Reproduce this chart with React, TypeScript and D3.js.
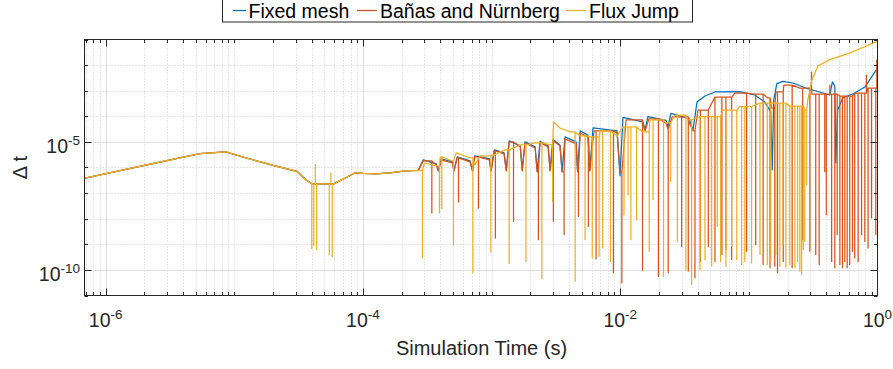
import React from 'react';
import * as d3 from 'd3';

type Pt = [number, number];

// Simulation time (s) vs. time step Δt. All three runs share the same start-up phase.
const sharedStart: Pt[] = [
  [6.3e-7, 3.5e-7], [2.0e-6, 1.2e-6], [5.4e-6, 3.5e-6], [8.55e-6, 4.1e-6], [1.26e-5, 2.3e-6],
  [2.0e-5, 1.2e-6], [3.07e-5, 7.0e-7], [3.6e-5, 3.3e-7], [4.0e-5, 2.3e-7], [5.9e-5, 2.3e-7],
  [7.3e-5, 3.9e-7], [8.7e-5, 6.2e-7], [1.0e-4, 5.9e-7], [1.25e-4, 5.6e-7], [1.63e-4, 6.2e-7],
  [2.13e-4, 7.4e-7], [2.69e-4, 7.7e-7],
];

const fixedMeshTail: Pt[] = [
  [2.94e-4, 2.0e-6], [3.71e-4, 1.39e-6], [3.85e-4, 7.4e-7], [4.06e-4, 2.2e-6], [4.95e-4, 1.66e-6],
  [5.1e-4, 7.4e-7], [5.4e-4, 2.6e-6], [6.8e-4, 1.82e-6], [7.1e-4, 7.4e-7], [7.4e-4, 2.85e-6],
  [9.6e-4, 2.2e-6], [9.9e-4, 7.4e-7], [1.05e-3, 4.9e-6], [1.25e-3, 3.7e-6], [1.3e-3, 8.1e-7],
  [1.37e-3, 1.09e-5], [1.67e-3, 7.0e-6], [1.73e-3, 8.1e-7], [1.82e-3, 1.0e-5], [2.18e-3, 6.4e-6],
  [2.26e-3, 7.1e-7], [2.38e-3, 1.05e-5], [2.75e-3, 7.0e-6], [2.85e-3, 8.1e-7], [3.0e-3, 1.25e-5],
  [3.4e-3, 7.6e-6], [3.53e-3, 7.1e-7], [3.72e-3, 1.57e-5], [4.54e-3, 1.0e-5], [4.66e-3, 7.1e-7],
  [4.88e-3, 2.7e-5], [5.6e-3, 1.87e-5], [5.8e-3, 8.1e-7], [6.15e-3, 3.5e-5], [9.45e-3, 2.7e-5],
  [9.96e-3, 4.8e-7], [1.05e-2, 9.0e-5], [1.5e-2, 6.0e-5], [1.56e-2, 2.93e-5], [1.64e-2, 9.8e-5],
  [2.27e-2, 6.9e-5], [2.35e-2, 3.84e-5], [2.48e-2, 1.29e-4], [3.42e-2, 8.2e-5], [3.68e-2, 2.93e-5],
  [3.95e-2, 3.6e-4], [4.56e-2, 6.2e-4], [5.45e-2, 8.9e-4], [8.5e-2, 9.2e-4], [1.11e-1, 6.8e-4],
  [1.33e-1, 3.6e-4], [1.48e-1, 1.47e-4], [1.52e-1, 8.1e-7], [1.56e-1, 4.3e-4], [1.65e-1, 1.9e-3],
  [1.84e-1, 2.3e-3], [2.2e-1, 2.0e-3], [2.77e-1, 1.27e-3], [3.56e-1, 8.9e-4], [4.26e-1, 6.8e-4],
  [4.46e-1, 2.2e-3], [4.66e-1, 1.5e-3], [4.74e-1, 1.52e-6], [4.9e-1, 1.76e-4], [5.37e-1, 5.2e-4],
  [6.65e-1, 8.1e-4], [7.97e-1, 1.39e-3], [1.0, 7.6e-3],
];

const banasTail: Pt[] = [
  [2.94e-4, 1.82e-6], [3.71e-4, 1.27e-6], [3.85e-4, 7.4e-7], [4.06e-4, 2.0e-6], [4.95e-4, 1.52e-6],
  [5.1e-4, 7.4e-7], [5.4e-4, 2.38e-6], [6.8e-4, 1.66e-6], [7.1e-4, 7.4e-7], [7.4e-4, 2.6e-6],
  [9.6e-4, 2.0e-6], [9.9e-4, 7.4e-7], [1.05e-3, 4.45e-6], [1.25e-3, 3.4e-6], [1.3e-3, 7.4e-7],
  [1.37e-3, 1.0e-5], [1.67e-3, 6.4e-6], [1.73e-3, 7.4e-7], [1.82e-3, 9.1e-6], [2.18e-3, 5.8e-6],
  [2.26e-3, 6.8e-7], [2.38e-3, 9.6e-6], [2.75e-3, 6.4e-6], [2.85e-3, 7.4e-7], [3.0e-3, 1.09e-5],
  [3.4e-3, 7.0e-6], [3.53e-3, 6.8e-7], [3.72e-3, 1.31e-5], [4.54e-3, 8.4e-6], [4.66e-3, 6.8e-7],
  [4.88e-3, 2.24e-5], [5.6e-3, 1.57e-5], [5.8e-3, 7.4e-7], [6.25e-3, 2.7e-5], [9.45e-3, 2.24e-5],
  [9.96e-3, 6.8e-7], [1.11e-2, 7.2e-5], [1.5e-2, 5.0e-5], [1.56e-2, 2.7e-5], [1.67e-2, 7.9e-5],
  [2.27e-2, 5.5e-5], [2.35e-2, 3.2e-5], [2.53e-2, 9.4e-5], [3.42e-2, 6.0e-5], [3.68e-2, 2.7e-5],
  [4.02e-2, 1.76e-4], [5.45e-2, 5.65e-4], [7.8e-2, 8.1e-4], [1.11e-1, 7.4e-4], [1.4e-1, 5.2e-4],
  [1.51e-1, 2.1e-4], [1.62e-1, 8.9e-4], [1.87e-1, 1.66e-3], [2.49e-1, 1.27e-3], [3.09e-1, 7.4e-4],
  [5.1e-1, 6.2e-4], [6.65e-1, 8.1e-4], [8.4e-1, 1.27e-3], [1.0, 2.6e-3],
];

const fluxJumpTail: Pt[] = [
  [3.0e-4, 1.5e-6], [3.71e-4, 1.16e-6], [3.99e-4, 2.6e-6], [4.95e-4, 1.8e-6], [5.3e-4, 3.7e-6],
  [6.8e-4, 2.4e-6], [7.4e-4, 1.27e-6], [8.15e-4, 2.85e-6], [1.05e-3, 3.1e-6], [1.27e-3, 4.9e-6],
  [1.67e-3, 7.6e-6], [2.18e-3, 9.2e-6], [2.9e-3, 7.6e-6], [3.03e-3, 6.0e-5], [3.4e-3, 3.5e-5],
  [4.08e-3, 2.45e-5], [4.88e-3, 1.71e-5], [5.8e-3, 1.57e-5], [6.97e-3, 2.7e-5], [9.45e-3, 1.71e-5],
  [1.05e-2, 3.84e-5], [1.5e-2, 2.45e-5], [1.7e-2, 7.2e-5], [2.27e-2, 5.5e-5], [2.66e-2, 1.12e-4],
  [3.36e-2, 7.2e-5], [4.17e-2, 9.8e-5], [6.3e-2, 1.76e-4], [8.5e-2, 2.4e-4], [1.22e-1, 3.3e-4],
  [1.59e-1, 3.3e-4], [2.08e-1, 2.5e-4], [2.72e-1, 1.76e-4], [2.87e-1, 4.3e-4], [3.09e-1, 2.6e-3],
  [3.43e-1, 9.1e-3], [4.26e-1, 1.64e-2], [6.08e-1, 2.93e-2], [1.0, 8.6e-2],
];

// Single-step collapses of Δt: [time, step size at the bottom of the drop]
const banasDrops: Pt[] = [
  [3.43e-4, 1.67e-8], [5.53e-4, 4.5e-8], [7.9e-4, 2.6e-8], [1.07e-3, 1.77e-9], [1.48e-3, 7.9e-9],
  [2.31e-3, 1.52e-9], [3.02e-3, 7.9e-9], [3.66e-3, 2.4e-9], [4.73e-3, 1.23e-8], [5.65e-3, 5.0e-9],
  [6.49e-3, 2.7e-10], [8.85e-3, 7.7e-11], [1.03e-2, 3.1e-11], [1.49e-2, 9.6e-11], [1.98e-2, 5.6e-11],
  [2.36e-2, 7.7e-11], [3.0e-2, 8.3e-10], [3.38e-2, 8.9e-11], [3.81e-2, 4.9e-11], [4.2e-2, 2.1e-10],
  [4.84e-2, 8.3e-10], [5.45e-2, 2.1e-10], [6.17e-2, 3.96e-10], [6.63e-2, 6.2e-10], [7.35e-2, 2.5e-10],
  [9.6e-2, 5.3e-10], [1.13e-1, 9.7e-10], [1.29e-1, 1.62e-10], [1.46e-1, 1.2e-10], [1.59e-1, 1.39e-10],
  [1.67e-1, 7.7e-11], [1.85e-1, 2.15e-10], [2.17e-1, 1.2e-10], [2.62e-1, 1.52e-9], [2.98e-1, 5.3e-10],
  [3.07e-1, 5.3e-3], [3.31e-1, 4.0e-10], [3.52e-1, 1.62e-10], [3.89e-1, 6.9e-7], [4.0e-1, 1.43e-8],
  [4.26e-1, 1.66e-3], [4.4e-1, 2.15e-10], [4.66e-1, 1.2e-10], [4.86e-1, 2.4e-9], [5.1e-1, 1.62e-10],
  [5.34e-1, 1.2e-10], [5.57e-1, 2.15e-10], [5.81e-1, 1.2e-10], [6.08e-1, 1.62e-10], [6.39e-1, 5.3e-10],
  [6.65e-1, 2.95e-10], [7.07e-1, 2.15e-10], [7.52e-1, 2.4e-9], [7.97e-1, 1.31e-9], [8.2e-1, 4.1e-3],
  [8.45e-1, 7.2e-10], [8.98e-1, 1.07e-8], [9.7e-1, 2.4e-9], [9.87e-1, 1.57e-2],
];

const fluxJumpDrops: Pt[] = [
  [4.0e-5, 6.8e-10], [4.15e-5, 8.9e-10], [4.26e-5, 1.27e-6], [4.37e-5, 6.2e-10], [5.47e-5, 4.0e-10],
  [5.63e-5, 6.2e-7], [5.77e-5, 3.3e-10],
  [2.9e-4, 2.95e-10], [3.93e-4, 1.67e-8], [4.1e-4, 2.45e-8], [5.05e-4, 9.1e-10], [7.15e-4, 7.7e-11],
  [9.87e-4, 4.9e-10], [1.37e-3, 1.77e-10], [1.85e-3, 2.15e-10], [2.46e-3, 4.5e-11], [2.98e-3, 4.7e-8],
  [4.46e-3, 3.6e-11], [5.33e-3, 1.52e-9], [6.06e-3, 2.95e-10], [6.85e-3, 3.4e-10], [7.3e-3, 7.2e-10],
  [8.4e-3, 2.15e-10], [1.07e-2, 1.43e-8], [1.15e-2, 8.6e-8], [1.21e-2, 1.52e-9], [1.34e-2, 9.1e-9],
  [1.68e-2, 5.3e-10], [1.8e-2, 5.5e-8], [2.17e-2, 5.6e-11], [2.47e-2, 2.83e-7], [2.78e-2, 1.31e-9],
  [3.24e-2, 1.03e-10], [3.59e-2, 2.68e-11], [4.17e-2, 1.03e-10], [4.56e-2, 2.5e-10], [5.14e-2, 1.39e-10],
  [5.68e-2, 5.0e-9], [6.03e-2, 2.15e-10], [6.63e-2, 1.39e-10], [7.35e-2, 8.3e-10], [8.05e-2, 2.5e-10],
  [8.78e-2, 1.62e-10], [9.3e-2, 2.15e-10], [1.05e-1, 1.88e-10], [1.22e-1, 3.96e-10], [1.39e-1, 1.62e-10],
  [1.48e-1, 2.15e-10], [1.62e-1, 3.96e-10], [1.74e-1, 1.39e-10], [1.84e-1, 9.7e-10], [1.94e-1, 1.2e-10],
  [2.08e-1, 1.62e-10], [2.28e-1, 1.2e-10], [2.39e-1, 2.15e-10], [2.49e-1, 8.9e-11], [2.57e-1, 6.6e-11],
  [2.65e-1, 6.2e-10], [2.72e-1, 1.31e-9], [2.82e-1, 2.1e-7],
];

const seriesNames = ['Fixed mesh', 'Bañas and Nürnberg', 'Flux Jump'];
const seriesColors = ['#0072BD', '#D95319', '#EDB120'];

const xLabeledTicks = [1e-6, 1e-4, 1e-2, 1];
const xLabelExponents = ['-6', '-4', '-2', '0'];
const yLabeledTicks = [1e-10, 1e-5];
const yLabelExponents = ['-10', '-5'];

const W = 893;
const H = 369;
const FONT = "'Liberation Sans', Arial, Helvetica, sans-serif";
const INK = '#262626';

const box = { left: 84.5, right: 877.5, top: 39.5, bottom: 295.5 };

const x = d3.scaleLog().domain([6.84e-7, 1]).range([box.left, box.right]);
const y = d3.scaleLog().domain([1e-11, 1e-1]).range([box.bottom, box.top]);

// Insert each drop as a vertical excursion that leaves from and returns to the last recorded step.
function withDrops(base: Pt[], drops: Pt[]): Pt[] {
  const sorted = [...drops].sort((a, b) => a[0] - b[0]);
  const out: Pt[] = [];
  let j = 0;
  for (let i = 0; i < base.length; i++) {
    out.push(base[i]);
    const next = i + 1 < base.length ? base[i + 1][0] : Infinity;
    while (j < sorted.length && sorted[j][0] < next) {
      if (sorted[j][0] >= base[i][0]) {
        const hold = base[i][1];
        out.push([sorted[j][0], hold], [sorted[j][0], sorted[j][1]], [sorted[j][0], hold]);
      }
      j++;
    }
  }
  return out;
}

const seriesData: Pt[][] = [
  [...sharedStart, ...fixedMeshTail],
  withDrops([...sharedStart, ...banasTail], banasDrops),
  withDrops([...sharedStart, ...fluxJumpTail], fluxJumpDrops),
];

const line = d3
  .line<Pt>()
  .x((d) => x(d[0]))
  .y((d) => y(d[1]));

const isNear = (a: number, b: number) => Math.abs(Math.log10(a) - Math.log10(b)) < 1e-6;

export default function App() {
  const xTicks = x.ticks(10);
  const yTicks = d3.range(-11, 0).map((e) => Math.pow(10, e));
  const majorLen = 7;
  const minorLen = 3.5;

  const legendLines = [
    { x1: 233, x2: 246, tx: 248.5 },
    { x1: 357, x2: 377, tx: 380 },
    { x1: 566, x2: 586, tx: 589 },
  ];

  return (
    <svg
      width={W}
      height={H}
      viewBox={`0 0 ${W} ${H}`}
      style={{ position: 'absolute', left: 0, top: 0, background: '#fff' }}
      fontFamily={FONT}
    >
      <defs>
        <clipPath id="plot-area">
          <rect x={box.left} y={box.top} width={box.right - box.left} height={box.bottom - box.top} />
        </clipPath>
      </defs>
      <rect x={0} y={0} width={W} height={H} fill="#fff" />

      {/* grid */}
      <g>
        {xTicks.map((t, i) => {
          const major = xLabeledTicks.some((v) => isNear(v, t));
          const px = Math.round(x(t)) + 0.5;
          if (px <= box.left + 1 || px >= box.right - 1) return null;
          return (
            <line
              key={`gx${i}`}
              x1={px}
              x2={px}
              y1={box.top}
              y2={box.bottom}
              stroke={major ? '#dfdfdf' : '#cfcfcf'}
              strokeWidth={1}
              strokeDasharray={major ? undefined : '1 2'}
            />
          );
        })}
        {yTicks.map((t, i) => {
          const major = yLabeledTicks.some((v) => isNear(v, t));
          const py = Math.round(y(t)) + 0.5;
          if (py <= box.top + 1 || py >= box.bottom - 1) return null;
          return (
            <line
              key={`gy${i}`}
              x1={box.left}
              x2={box.right}
              y1={py}
              y2={py}
              stroke={major ? '#dfdfdf' : '#cfcfcf'}
              strokeWidth={1}
              strokeDasharray={major ? undefined : '1 2'}
            />
          );
        })}
      </g>

      {/* data */}
      <g clipPath="url(#plot-area)">
        {seriesData.map((pts, i) => (
          <path
            key={seriesNames[i]}
            d={line(pts) ?? ''}
            fill="none"
            stroke={seriesColors[i]}
            strokeWidth={1.25}
            strokeLinejoin="round"
          />
        ))}
      </g>

      {/* axes box and ticks */}
      <rect
        x={box.left}
        y={box.top}
        width={box.right - box.left}
        height={box.bottom - box.top}
        fill="none"
        stroke={INK}
        strokeWidth={1}
      />
      <g stroke={INK} strokeWidth={1}>
        {xTicks.map((t, i) => {
          const major = xLabeledTicks.some((v) => isNear(v, t));
          const len = major ? majorLen : minorLen;
          const px = Math.round(x(t)) + 0.5;
          if (px < box.left || px > box.right) return null;
          return (
            <g key={`tx${i}`}>
              <line x1={px} x2={px} y1={box.bottom} y2={box.bottom - len} />
              <line x1={px} x2={px} y1={box.top} y2={box.top + len} />
            </g>
          );
        })}
        {yTicks.map((t, i) => {
          const major = yLabeledTicks.some((v) => isNear(v, t));
          const len = major ? majorLen : minorLen;
          const py = Math.round(y(t)) + 0.5;
          return (
            <g key={`ty${i}`}>
              <line x1={box.left} x2={box.left + len} y1={py} y2={py} />
              <line x1={box.right} x2={box.right - len} y1={py} y2={py} />
            </g>
          );
        })}
      </g>

      {/* tick labels */}
      <g fill={INK} fontSize={19.5}>
        {xLabeledTicks.map((t, i) => (
          <text key={`lx${i}`} x={x(t)} y={box.bottom + 31.5} textAnchor="middle">
            10
            <tspan dy={-8} fontSize={13.5}>
              {xLabelExponents[i]}
            </tspan>
          </text>
        ))}
        {yLabeledTicks.map((t, i) => (
          <text key={`ly${i}`} x={80} y={y(t) + 11.3} textAnchor="end">
            10
            <tspan dy={-8} fontSize={13.5}>
              {yLabelExponents[i]}
            </tspan>
          </text>
        ))}
      </g>

      {/* axis titles */}
      <text x={481.5} y={354.5} textAnchor="middle" fontSize={20} fill={INK}>
        Simulation Time (s)
      </text>
      <text
        transform={`translate(26.5, ${(box.top + box.bottom) / 2}) rotate(-90)`}
        textAnchor="middle"
        fontSize={20}
        fill={INK}
      >
        Δ t
      </text>

      {/* legend */}
      <g>
        <rect x={222.5} y={-2} width={470} height={24} fill="#fff" stroke={INK} strokeWidth={1} />
        {seriesNames.map((name, i) => (
          <g key={`lg${i}`}>
            <line
              x1={legendLines[i].x1}
              x2={legendLines[i].x2}
              y1={10.5}
              y2={10.5}
              stroke={seriesColors[i]}
              strokeWidth={1.25}
            />
            <text x={legendLines[i].tx} y={17.5} fontSize={19.5} fill="#000">
              {name}
            </text>
          </g>
        ))}
      </g>
    </svg>
  );
}
